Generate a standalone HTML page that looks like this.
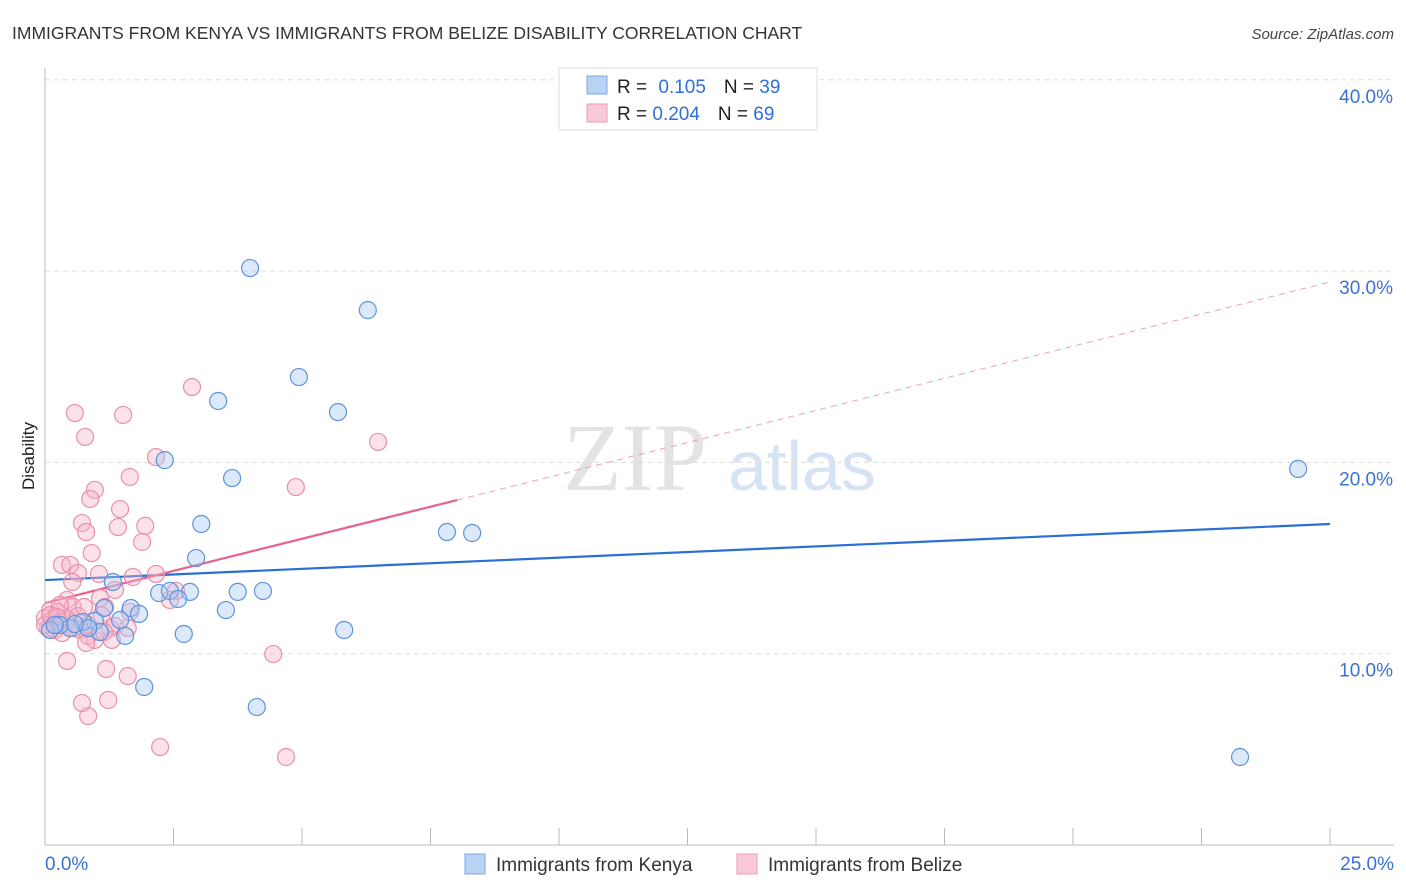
<!DOCTYPE html>
<html><head><meta charset="utf-8"><style>
body{margin:0;background:#fff;font-family:"Liberation Sans",sans-serif;}
svg{display:block}
</style></head><body>
<svg width="1406" height="892" id="c">
<text x="12" y="39" font-size="17.5" fill="#333">IMMIGRANTS FROM KENYA VS IMMIGRANTS FROM BELIZE DISABILITY CORRELATION CHART</text>
<text x="1394" y="39" font-size="15" fill="#444" font-style="italic" text-anchor="end">Source: ZipAtlas.com</text>
<text x="34" y="456" font-size="17" fill="#222" text-anchor="middle" transform="rotate(-90 34 456)">Disability</text>
<g>
<text x="635" y="490" font-size="96" fill="#e3e3e3" font-family="Liberation Serif,serif" text-anchor="middle">ZIP</text>
<text x="802" y="490" font-size="70" fill="#d6e3f5" text-anchor="middle">atlas</text>
</g>
<g id="grid"></g><g id="axes"></g><g id="lines"></g><g id="pts"></g>
<g>
<rect x="559" y="68" width="258" height="62" fill="#fff" stroke="#ddd"/>
<rect x="587" y="76" width="20" height="18" fill="#b9d3f5" stroke="#7aa7e3"/>
<rect x="587" y="104" width="20" height="18" fill="#fac9d8" stroke="#ee9bb6"/>
<text x="617" y="93" font-size="19" fill="#222">R = <tspan fill="#2f6fd6" dx="6">0.105</tspan><tspan dx="18" fill="#222">N = </tspan><tspan fill="#2f6fd6">39</tspan></text>
<text x="617" y="120" font-size="19" fill="#222">R = <tspan fill="#2f6fd6">0.204</tspan><tspan dx="18" fill="#222">N = </tspan><tspan fill="#2f6fd6">69</tspan></text>
</g>
<g>
<rect x="465" y="854" width="20" height="20" fill="#b9d3f5" stroke="#7aa7e3"/>
<text x="496" y="871" font-size="19" fill="#333">Immigrants from Kenya</text>
<rect x="737" y="854" width="20" height="20" fill="#fac9d8" stroke="#ee9bb6"/>
<text x="768" y="871" font-size="19" fill="#333">Immigrants from Belize</text>
</g>
</svg>
<script>
const kenyaX=[3.99,6.28,4.94,5.70,3.37,2.33,3.64,3.04,7.82,8.31,2.94,1.32,2.22,2.43,2.82,3.75,4.24,2.59,3.52,1.67,1.83,1.15,1.46,0.97,0.74,0.49,0.29,0.10,1.07,1.56,2.70,5.82,1.93,4.12,24.38,23.25,0.19,0.84,0.58];
const kenyaY=[30.16,27.96,24.46,22.63,23.21,20.12,19.18,16.78,16.36,16.31,15.00,13.75,13.17,13.28,13.23,13.23,13.28,12.86,12.28,12.39,12.08,12.39,11.76,11.71,11.66,11.34,11.50,11.24,11.13,10.93,11.03,11.24,8.26,7.21,19.66,4.60,11.50,11.34,11.55];
const belizeX=[2.86,0.58,1.52,0.78,6.48,2.16,1.65,0.97,0.88,4.88,1.46,0.72,1.95,1.42,0.80,1.89,0.91,0.33,0.49,0.64,0.53,1.05,1.71,2.16,1.36,0.43,1.07,1.17,0.54,0.10,0.25,1.65,0.00,0.14,0.29,0.45,0.19,0.06,0.33,0.68,0.84,0.97,0.80,1.26,1.36,1.15,2.55,2.43,1.61,1.30,0.84,0.39,0.64,0.29,0.76,0.43,1.19,1.61,0.84,0.72,1.23,2.24,4.69,4.44,0.00,0.10,0.23,0.56,1.10];
const belizeY=[23.94,22.58,22.48,21.33,21.07,20.28,19.24,18.56,18.09,18.71,17.56,16.83,16.68,16.62,16.36,15.84,15.26,14.64,14.64,14.22,13.75,14.17,14.01,14.17,13.33,12.81,12.91,12.44,12.44,12.28,12.18,12.18,11.87,11.76,11.66,11.81,11.24,11.34,11.08,11.24,10.93,10.72,10.56,11.34,11.45,11.13,13.28,12.81,11.34,10.72,11.50,11.87,11.97,12.55,12.44,9.62,9.20,8.83,6.74,7.42,7.58,5.12,4.60,9.98,11.50,12.02,11.92,11.34,12.0];
const kenyaLine=[13.85,16.78];
const belizeLine=[12.65,29.43];
const belizeSolidEnd=8.02;
const yTicks=[10,20,30,40];
const xTickLabels=["0.0%","25.0%"];
const NS="http://www.w3.org/2000/svg";
const X=v=>45+v*1285/25, Y=v=>845-v*19.13;
function mk(t,a,p){const e=document.createElementNS(NS,t);for(const k in a)e.setAttribute(k,a[k]);p.appendChild(e);return e;}
const grid=document.getElementById('grid'),axes=document.getElementById('axes'),lines=document.getElementById('lines'),pts=document.getElementById('pts');
yTicks.forEach(v=>{
 const l=mk('line',{x1:45,x2:1394,y1:Y(v),y2:Y(v),stroke:'#ddd','stroke-dasharray':'5,4'},grid);
 
 
 const t=mk('text',{x:1393,y:Y(v)+23,'font-size':19,fill:'#3a72d0','text-anchor':'end'},axes);
 t.textContent=v.toFixed(1)+'%';
 
 
});
const ax=mk('line',{x1:45,x2:45,y1:68,y2:845,stroke:'#bbb'},axes);


const bx=mk('line',{x1:45,x2:1394,y1:845,y2:845,stroke:'#bbb'},axes);


for(let i=0;i<=10;i++){const tk=mk('line',{x1:X(i*2.5),x2:X(i*2.5),y1:828,y2:845,stroke:'#bbb'},axes);
 
 }
[[0,'start',45],[25,'end',1394]].forEach((d,i)=>{const t=mk('text',{x:d[2],y:870,'font-size':19,fill:'#3a72d0','text-anchor':d[1]},axes);
 t.textContent=xTickLabels[i];
 
 });
function pt(x,y,f,s,n){const c=mk('circle',{cx:X(x),cy:Y(y),r:8.5,fill:f,'fill-opacity':0.4,stroke:s,'stroke-width':1.2},pts);
 
 }
belizeX.forEach((x,i)=>pt(x,belizeY[i],'#f7b3c8','#ea8fad','belize-point'));
kenyaX.forEach((x,i)=>pt(x,kenyaY[i],'#a8c8f2','#5e93dc','kenya-point'));
const bl=mk('line',{x1:X(0),y1:Y(kenyaLine[0]),x2:X(25),y2:Y(kenyaLine[1]),stroke:'#2b6fd4','stroke-width':2.2},lines);


const by=v=>belizeLine[0]+(belizeLine[1]-belizeLine[0])*v/25;
const ps=mk('line',{x1:X(0),y1:Y(by(0)),x2:X(belizeSolidEnd),y2:Y(by(belizeSolidEnd)),stroke:'#e8608c','stroke-width':2.2},lines);


const pd=mk('line',{x1:X(belizeSolidEnd),y1:Y(by(belizeSolidEnd)),x2:X(25),y2:Y(by(25)),stroke:'#eaa0b8','stroke-width':1,'stroke-dasharray':'6,5'},lines);


</script>
</body></html>
